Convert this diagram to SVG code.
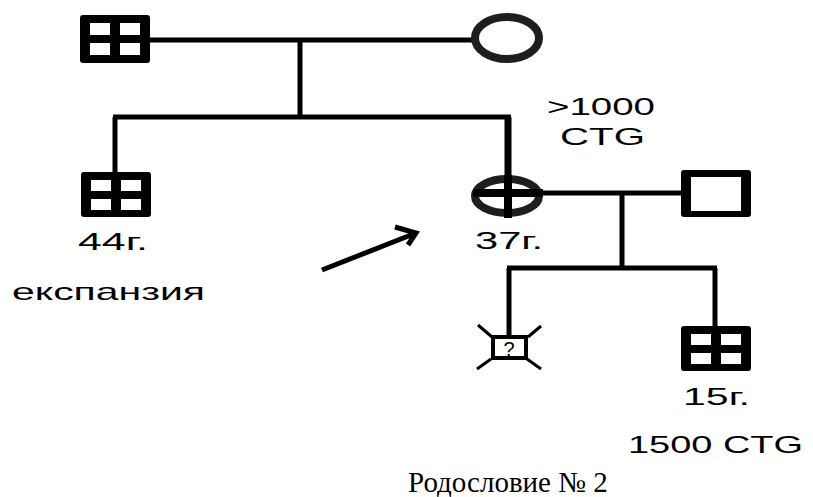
<svg xmlns="http://www.w3.org/2000/svg" width="813" height="497" viewBox="0 0 813 497">
<style>
.ln{stroke:#000;stroke-width:5;fill:none;stroke-linecap:butt}
.fe{fill:none;stroke:#1e1e1e;stroke-width:8}
.t{font-family:"Liberation Sans",Arial,sans-serif;font-size:24px;fill:#000}
.s{font-family:"Liberation Serif","Times New Roman",serif;font-size:29px;fill:#000}
.blk{fill:#000}
.wh{fill:#fff}
</style>
<rect width="813" height="497" fill="#fff"/>
<g id="connectors">
<line class="ln" x1="150" y1="40" x2="472" y2="40"/>
<line class="ln" x1="300" y1="40" x2="300" y2="117"/>
<line class="ln" x1="113" y1="117" x2="511" y2="117"/>
<line class="ln" x1="115" y1="117" x2="115" y2="172"/>
<line class="ln" x1="508" y1="117" x2="508" y2="176" style="stroke-width:7"/>
<line class="ln" x1="543" y1="193" x2="681" y2="193"/>
<line class="ln" x1="622" y1="193" x2="622" y2="268"/>
<line class="ln" x1="507" y1="268" x2="717" y2="268"/>
<line class="ln" x1="509" y1="268" x2="509" y2="335"/>
<line class="ln" x1="715" y1="268" x2="715" y2="327"/>
</g>
<g id="grandfather">
<rect class="blk" x="80" y="15" width="70" height="48" rx="3"/>
<rect class="wh" x="90" y="23" width="20" height="12"/>
<rect class="wh" x="120" y="23" width="20" height="12"/>
<rect class="wh" x="90" y="43" width="20" height="12"/>
<rect class="wh" x="120" y="43" width="20" height="12"/>
</g>
<g id="grandmother">
<ellipse class="fe" cx="507" cy="38" rx="32" ry="21"/>
</g>
<g id="uncle">
<rect class="blk" x="81" y="172" width="70" height="45" rx="3"/>
<rect class="wh" x="91" y="180" width="20" height="11"/>
<rect class="wh" x="121" y="180" width="20" height="11"/>
<rect class="wh" x="91" y="199" width="20" height="11"/>
<rect class="wh" x="121" y="199" width="20" height="11"/>
<text class="t" x="78" y="250" textLength="70" lengthAdjust="spacingAndGlyphs">44г.</text>
</g>
<g id="proband">
<ellipse class="fe" cx="507" cy="196" rx="32" ry="17"/>
<line class="ln" x1="508" y1="175" x2="508" y2="218" style="stroke-width:8"/>
<line class="ln" x1="473" y1="193" x2="543" y2="193" style="stroke-width:8"/>
<text class="t" x="475" y="249" textLength="68" lengthAdjust="spacingAndGlyphs">37г.</text>
<text class="t" x="547" y="115" textLength="108" lengthAdjust="spacingAndGlyphs">&gt;1000</text>
<text class="t" x="560" y="145" textLength="85" lengthAdjust="spacingAndGlyphs">CTG</text>
</g>
<g id="husband">
<rect class="blk" x="681" y="170" width="70" height="47" rx="3"/>
<rect class="wh" x="691" y="177" width="50" height="34"/>
</g>
<g id="unknown-child">
<rect x="493" y="337" width="33" height="21" fill="#fff" stroke="#000" stroke-width="4"/>
<line class="ln" x1="478" y1="325" x2="492" y2="337" style="stroke-width:3"/>
<line class="ln" x1="528" y1="337" x2="541" y2="326" style="stroke-width:3"/>
<line class="ln" x1="491" y1="359" x2="477" y2="369" style="stroke-width:3"/>
<line class="ln" x1="527" y1="359" x2="541" y2="369" style="stroke-width:3"/>
<text class="t" x="509" y="356" text-anchor="middle" style="font-size:20px">?</text>
</g>
<g id="son">
<rect class="blk" x="681" y="326" width="70" height="45" rx="3"/>
<rect class="wh" x="691" y="334" width="20" height="11"/>
<rect class="wh" x="721" y="334" width="20" height="11"/>
<rect class="wh" x="691" y="353" width="20" height="11"/>
<rect class="wh" x="721" y="353" width="20" height="11"/>
<text class="t" x="683" y="405" textLength="67" lengthAdjust="spacingAndGlyphs">15г.</text>
<text class="t" x="628" y="453" textLength="175" lengthAdjust="spacingAndGlyphs">1500 CTG</text>
</g>
<g id="arrow">
<line class="ln" x1="322" y1="270" x2="416" y2="233"/>
<polyline class="ln" points="395,227 416,233 408,245"/>
</g>
<text class="t" x="12" y="300" textLength="193" lengthAdjust="spacingAndGlyphs">експанзия</text>
<text class="s" x="408" y="492">Родословие № 2</text>
</svg>
